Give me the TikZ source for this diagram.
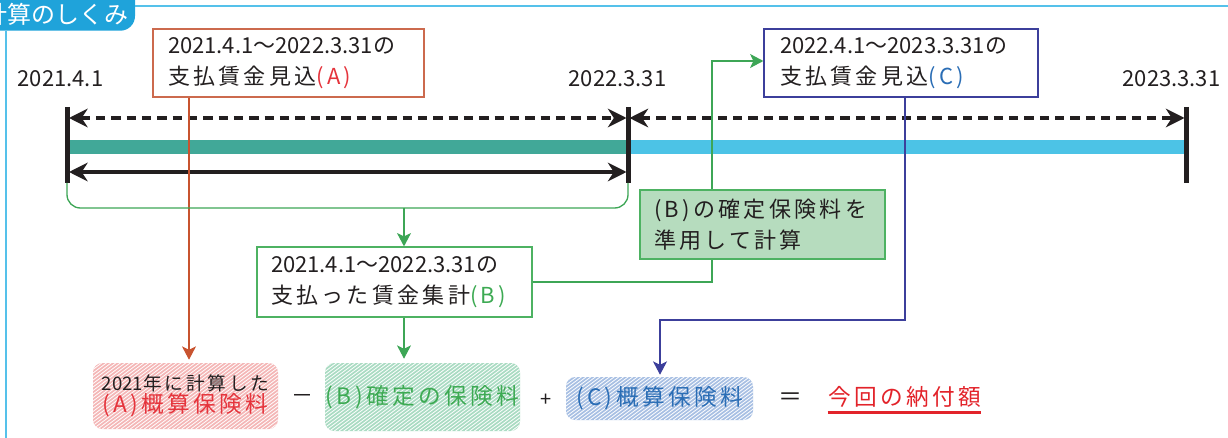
\documentclass[tikz,border=0pt]{standalone}
\usepackage{fontspec}
\setmainfont{Noto Sans CJK JP}[LetterSpace=15]
\newfontfamily\plainfont{Noto Sans CJK JP}
\usetikzlibrary{arrows.meta,calc}
\definecolor{tabblue}{HTML}{1FA3DA}
\definecolor{lineblue}{HTML}{55C1EA}
\definecolor{ink}{HTML}{231F20}
\definecolor{barteal}{HTML}{41A898}
\definecolor{barsky}{HTML}{4CC3E6}
\definecolor{boxA}{HTML}{CC6A4E}
\definecolor{lineA}{HTML}{C8532F}
\definecolor{redA}{HTML}{E5343C}
\definecolor{greenL}{HTML}{3DA656}
\definecolor{greenB}{HTML}{3DAA53}
\definecolor{greenFill}{HTML}{B6DCBE}
\definecolor{greenBorder}{HTML}{4DB262}
\definecolor{boxC}{HTML}{3C3F9B}
\definecolor{blueC}{HTML}{2A6DB5}
\definecolor{pinkH}{HTML}{F4B6B6}
\definecolor{greenH}{HTML}{A9DBC2}
\definecolor{blueH}{HTML}{A7BFE3}
\definecolor{resred}{HTML}{E2232A}
\newcommand\dg[1]{{\plainfont #1}}
\begin{document}
\begin{tikzpicture}[x=0.75pt,y=-0.75pt,
  boxfont/.style={font=\fontsize{16.5pt}{23.25pt}\selectfont},
  lowfont/.style={font=\fontsize{17pt}{22pt}\selectfont},
  lbl/.style={font=\plainfont\fontsize{16.5pt}{20pt}\selectfont, text=ink, inner sep=0pt},
  infobox/.style={draw=#1, line width=0.9pt, fill=white, align=left, inner ysep=0pt, text=ink, boxfont},
  tick/.style={ink, line width=3.75pt},
  dasharrow/.style={ink, line width=2.6pt, dash pattern=on 7pt off 4.5pt, {Stealth[length=14pt,width=14pt,inset=4.5pt]}-{Stealth[length=14pt,width=14pt,inset=4.5pt]}},
  solidarrow/.style={ink, line width=3pt, {Stealth[length=14pt,width=14pt,inset=4.5pt]}-{Stealth[length=14pt,width=14pt,inset=4.5pt]}},
  conn/.style={draw=#1, line width=1pt, -{Stealth[length=10pt,width=10.5pt,inset=2.5pt]}},
  hatch/.style={rounded corners=7pt, fill=#1, inner sep=0pt,
    path picture={\foreach \k in {-30,...,50} \draw[white, line width=0.6pt] ([xshift=\k*3.5pt]path picture bounding box.south west) -- ++(80pt,60pt);}},
  op/.style={text=ink, inner sep=0pt}
]
\useasboundingbox (0,0) rectangle (1228,438);
\clip (0,0) rectangle (1228,438);

% header tab and frame lines
\fill[tabblue, rounded corners=11pt] (-30,-30) -- (135,-30) -- (135,30.7) -- (-30,30.7) -- cycle;
\draw[lineblue, line width=1.5pt] (135,6) -- (1228,6);
\draw[lineblue, line width=1.5pt] (6,30.7) -- (6,438);
\node[anchor=east, text=white, inner sep=0pt, font=\plainfont\fontsize{18pt}{20pt}\selectfont] (tab) at (129,14) {計算のしくみ};

% dates
\node[lbl] (d1) at (60.5,79) {2021.4.1};
\node[lbl] (d2) at (617.5,79) {2022.3.31};
\node[lbl] (d3) at (1171.5,79) {2023.3.31};

% bars
\fill[barteal] (67,140) rectangle (628,154.5);
\fill[barsky] (628,140) rectangle (1186,154.5);

% ticks
\coordinate (t1u) at (67,107); \coordinate (t1d) at (67,183);
\coordinate (t2u) at (628,107); \coordinate (t2d) at (628,183);
\coordinate (t3u) at (1186,107); \coordinate (t3d) at (1186,183);
\draw[tick] (t1u) -- (t1d);
\draw[tick] (t2u) -- (t2d);
\draw[tick] (t3u) -- (t3d);

% arrows between ticks
\coordinate (a1) at (69,118); \coordinate (a2) at (626.5,118);
\coordinate (a3) at (629.5,118); \coordinate (a4) at (1184.5,118);
\coordinate (s1) at (69,172); \coordinate (s2) at (626.5,172);
\draw[dasharrow] (a1) -- (a2);
\draw[dasharrow] (a3) -- (a4);
\draw[solidarrow] (s1) -- (s2);

% boxes
\node[infobox=boxA, minimum width=203.25pt, minimum height=51pt, inner xsep=11.25pt, text width=180.75pt] (A) at (288.5,63)
  {\dg{2021.4.1～2022.3.31の}\\支払賃金見込{\color{redA}(A)}};
\node[infobox=boxC, minimum width=205.5pt, minimum height=51pt, inner xsep=12pt, text width=181.5pt] (C) at (901,63)
  {\dg{2022.4.1～2023.3.31の}\\支払賃金見込{\color{blueC}(C)}};
\node[infobox=greenBorder, minimum width=206.25pt, minimum height=52.5pt, inner xsep=10.5pt, text width=185.25pt] (B) at (394.5,282)
  {\dg{2021.4.1～2022.3.31の}\\支払った賃金集計{\color{greenB}(B)}};

% bottom row
\node[hatch=pinkH, minimum width=138.75pt, minimum height=49.5pt, align=center] (P) at (185.5,396)
  {{\fontsize{14pt}{22.5pt}\selectfont\color{ink}\dg{2021}年に計算した}\\{\fontsize{17pt}{22.5pt}\selectfont\color{redA}(A)概算保険料}};
\node[op, font=\plainfont\fontsize{16.5pt}{20pt}\selectfont] (minus) at (302.5,399) {－};
\node[hatch=greenH, minimum width=146.25pt, minimum height=51pt, text=greenB, lowfont] (G) at (422.5,397) {(B)確定の保険料};
\node[op, font=\plainfont\fontsize{15pt}{16pt}\selectfont] (plus) at (546,400) {+};
\node[hatch=blueH, minimum width=140.25pt, minimum height=32.25pt, text=blueC, lowfont] (Bl) at (659.5,398.5) {(C)概算保険料};
\node[op, font=\plainfont\fontsize{18pt}{20pt}\selectfont] (eq) at (790,399) {＝};
\node[inner sep=0pt, text=resred, font=\fontsize{17pt}{22pt}\selectfont] (R) at (904.5,397) {今回の納付額};
\draw[resred, line width=1.8pt] ($(R.base west)+(0,7)$) -- ($(R.base east)+(0,7)$);

% connectors
\coordinate (ax) at (189,0);
\draw[conn=lineA] (A.south -| ax) -- ($(P.north -| ax)+(0,-3)$);

\coordinate (br1) at (67,183); \coordinate (br2) at (67,208);
\coordinate (br3) at (628,208); \coordinate (br4) at (628,183);
\draw[greenL, line width=1pt, rounded corners=10pt] (br1) -- (br2) -- (br3) -- (br4);
\coordinate (bm) at (404,208);
\draw[conn=greenL] (bm) -- (B.north -| bm);
\draw[conn=greenL] (B.south -| bm) -- ($(G.north -| bm)+(0,-4)$);

\coordinate (g1) at (712,282); \coordinate (g2) at (712,61);
\draw[conn=greenL] (B.east) -- (g1) -- (g2) -- (C.west |- g2);

\coordinate (cb1) at (905,320); \coordinate (cb2) at (660,320);
\draw[conn=boxC] (C.south -| cb1) -- (cb1) -- (cb2) -- ($(Bl.north -| cb2)+(0,-2)$);

% green note box (covers the connector)
\node[draw=greenBorder, line width=0.9pt, fill=greenFill, align=left, text=ink, boxfont, minimum width=183.75pt, minimum height=51.75pt, inner xsep=10.5pt, inner ysep=0pt, text width=162.75pt] (D) at (762.5,224.5)
  {(B)の確定保険料を\\準用して計算};
\end{tikzpicture}
\end{document}
